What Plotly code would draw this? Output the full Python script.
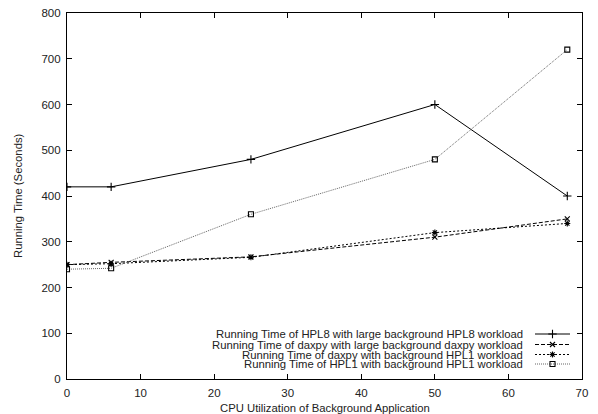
import plotly.graph_objects as go

# CPU utilization of the background application (%)
cpu_util = [0, 6, 25, 50, 68]

# Running times in seconds
hpl8_large = [420, 420, 480, 600, 400]
daxpy_large = [250, 255, 267, 310, 350]
daxpy_hpl1 = [250, 252, 266, 320, 340]
hpl1_hpl1 = [240, 242, 360, 480, 720]

series_names = [
    "Running Time of HPL8 with large background HPL8 workload",
    "Running Time of daxpy with large background daxpy workload",
    "Running Time of daxpy with background HPL1 workload",
    "Running Time of HPL1 with background HPL1 workload",
]

x_ticks = [0, 10, 20, 30, 40, 50, 60, 70]
y_ticks = [0, 100, 200, 300, 400, 500, 600, 700, 800]

FONT = "Liberation Sans, Arial, sans-serif"
TXT = "#222222"

# Plot-area geometry in pixels
W, H = 598, 414
ML, MR, MT, MB = 67, 16, 13, 35
PW, PH = W - ML - MR, H - MT - MB

styles = [
    dict(color="#000000", dash="solid", symbol="cross-thin-open", msize=6, width=1.0),
    dict(color="#000000", dash="4px,2px", symbol="x-thin-open", msize=5, width=1.0),
    dict(color="#000000", dash="2px,2px", symbol="asterisk-open", msize=5, width=1.0),
    dict(color="#666666", dash="1px,1px", symbol="square-open", msize=5, width=1.0),
]

fig = go.Figure()

for name, ys, st in zip(series_names, [hpl8_large, daxpy_large, daxpy_hpl1, hpl1_hpl1], styles):
    fig.add_trace(go.Scatter(
        x=cpu_util, y=ys, mode="lines+markers", name=name, showlegend=False,
        line=dict(color=st["color"], dash=st["dash"], width=st["width"]),
        marker=dict(symbol=st["symbol"], size=st["msize"], color="#000000",
                    line=dict(color="#000000", width=1.1)),
        xaxis="x", yaxis="y",
    ))

# Key in the gnuplot style: right-aligned text with the sample to its right
# (key axis runs in pixels up from the bottom of the plot area)
key_rows = [45, 34.5, 24.5, 15]
for name, st, ky in zip(series_names, styles, key_rows):
    fig.add_trace(go.Scatter(
        x=[0.0, 1.0], y=[ky, ky], mode="lines", showlegend=False, hoverinfo="skip",
        line=dict(color=st["color"], dash=st["dash"], width=st["width"]),
        xaxis="x2", yaxis="y2",
    ))
    fig.add_trace(go.Scatter(
        x=[0.5], y=[ky], mode="markers", showlegend=False, hoverinfo="skip",
        marker=dict(symbol=st["symbol"], size=st["msize"], color="#000000",
                    line=dict(color="#000000", width=1.1)),
        xaxis="x2", yaxis="y2",
    ))
    fig.add_annotation(
        x=0.0, y=ky, xref="x2", yref="y2", text=name, showarrow=False,
        xanchor="right", yanchor="middle", xshift=-10,
        font=dict(family=FONT, size=11.3, color=TXT),
    )

# Axis titles
fig.add_annotation(
    x=0.5, y=-(408 - (H - MB)) / PH, xref="paper", yref="paper",
    text="CPU Utilization of Background Application", showarrow=False,
    xanchor="center", yanchor="middle", font=dict(family=FONT, size=11.3, color=TXT),
)
fig.add_annotation(
    x=(18 - ML) / PW, y=0.5, xref="paper", yref="paper",
    text="Running Time (Seconds)", showarrow=False, textangle=-90,
    xanchor="center", yanchor="middle", font=dict(family=FONT, size=11.3, color=TXT),
)

axis_common = dict(
    showgrid=False, zeroline=False, showline=True, linecolor="#000000", linewidth=1.2,
    mirror="allticks", ticks="inside", ticklen=5, tickwidth=1, tickcolor="#000000",
    tickfont=dict(family=FONT, size=11.5, color=TXT), automargin=False,
)

fig.update_layout(
    width=W, height=H,
    margin=dict(l=ML, r=MR, t=MT, b=MB),
    paper_bgcolor="#ffffff", plot_bgcolor="rgba(0,0,0,0)",
    xaxis=dict(range=[0, 70], tickvals=x_ticks, domain=[0, 1], ticklabelstandoff=3,
               **axis_common),
    yaxis=dict(range=[0, 800], tickvals=y_ticks, domain=[0, 1], ticklabelstandoff=3,
               **axis_common),
    xaxis2=dict(domain=[(535 - ML) / PW, (570 - ML) / PW], range=[0, 1],
                visible=False, anchor="y2"),
    yaxis2=dict(domain=[0, 1], range=[0, PH], visible=False, anchor="x2"),
    showlegend=False,
)

fig.write_html("out.html")
